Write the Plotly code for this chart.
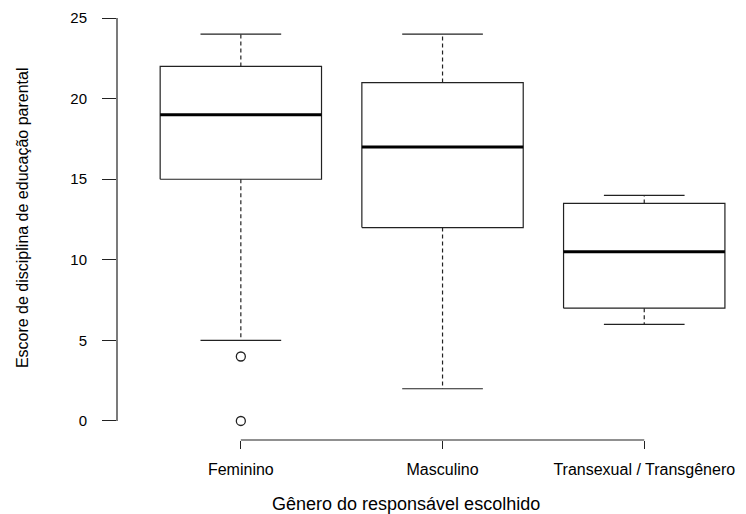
import plotly.graph_objects as go

# Summary statistics per group (R-style boxplot)
categories = ["Feminino", "Masculino", "Transexual / Transgênero"]
lower_whisker = [5, 2, 6]
q1 = [15, 12, 7]
median = [19, 17, 10.5]
q3 = [22, 21, 13.5]
upper_whisker = [24, 24, 14]
outlier_group = [0, 0]
outlier_value = [4, 0]

y_ticks = [0, 5, 10, 15, 20, 25]

BOX_HALF = 0.4
CAP_HALF = 0.2
LINE = "#222222"
FONT = "Liberation Sans, Arial, sans-serif"

box_x, box_y = [], []
med_x, med_y = [], []
whisk_x, whisk_y = [], []
cap_x, cap_y = [], []
for i in range(len(categories)):
    box_x += [i - BOX_HALF, i + BOX_HALF, i + BOX_HALF, i - BOX_HALF, i - BOX_HALF, None]
    box_y += [q1[i], q1[i], q3[i], q3[i], q1[i], None]
    med_x += [i - BOX_HALF, i + BOX_HALF, None]
    med_y += [median[i], median[i], None]
    whisk_x += [i, i, None, i, i, None]
    whisk_y += [q3[i], upper_whisker[i], None, q1[i], lower_whisker[i], None]
    cap_x += [i - CAP_HALF, i + CAP_HALF, None, i - CAP_HALF, i + CAP_HALF, None]
    cap_y += [upper_whisker[i], upper_whisker[i], None, lower_whisker[i], lower_whisker[i], None]

fig = go.Figure()
fig.add_trace(go.Scatter(x=whisk_x, y=whisk_y, mode="lines",
                         line=dict(color=LINE, width=1.2, dash="4px,3px"), hoverinfo="skip"))
fig.add_trace(go.Scatter(x=cap_x, y=cap_y, mode="lines",
                         line=dict(color=LINE, width=1.2), hoverinfo="skip"))
fig.add_trace(go.Scatter(x=box_x, y=box_y, mode="lines",
                         line=dict(color=LINE, width=1.2), hoverinfo="skip"))
fig.add_trace(go.Scatter(x=med_x, y=med_y, mode="lines",
                         line=dict(color="black", width=3), hoverinfo="skip"))
fig.add_trace(go.Scatter(x=outlier_group, y=outlier_value, mode="markers",
                         marker=dict(symbol="circle-open", size=9, color=LINE,
                                     line=dict(width=1.3)), hoverinfo="skip"))

# R-style detached axis lines spanning only the tick range
fig.add_shape(type="line", xref="paper", yref="y", x0=0, x1=0,
              y0=min(y_ticks), y1=max(y_ticks), line=dict(color=LINE, width=1.2))
fig.add_shape(type="line", xref="x", yref="paper", x0=0, x1=len(categories) - 1,
              y0=0, y1=0, line=dict(color=LINE, width=1.2))

fig.update_xaxes(range=[-0.614, 2.45], tickvals=list(range(len(categories))),
                 ticktext=categories, ticks="outside", ticklen=8, tickcolor=LINE,
                 tickwidth=1.2, showline=False, showgrid=False, zeroline=False,
                 ticklabelstandoff=7, tickfont=dict(family=FONT, size=16, color="black"))
fig.update_yaxes(range=[-1.18, 25.5], tickvals=y_ticks, ticks="outside", ticklen=14,
                 tickcolor=LINE, tickwidth=1.2, showline=False, showgrid=False,
                 zeroline=False, ticklabelstandoff=12,
                 tickfont=dict(family=FONT, size=15, color="black"))

fig.add_annotation(text="Gênero do responsável escolhido", xref="paper", yref="paper",
                   x=0.468, y=0, yshift=-64, showarrow=False, xanchor="center",
                   yanchor="middle", font=dict(family=FONT, size=18, color="black"))
fig.add_annotation(text="Escore de disciplina de educação parental", xref="paper",
                   yref="paper", x=0, xshift=-95, y=0.516, textangle=-90,
                   showarrow=False, xanchor="center", yanchor="middle",
                   font=dict(family=FONT, size=16, color="black"))

fig.update_layout(width=746, height=514, showlegend=False,
                  margin=dict(l=117, r=11, t=10, b=74),
                  plot_bgcolor="white", paper_bgcolor="white")

fig.write_html("out.html")
